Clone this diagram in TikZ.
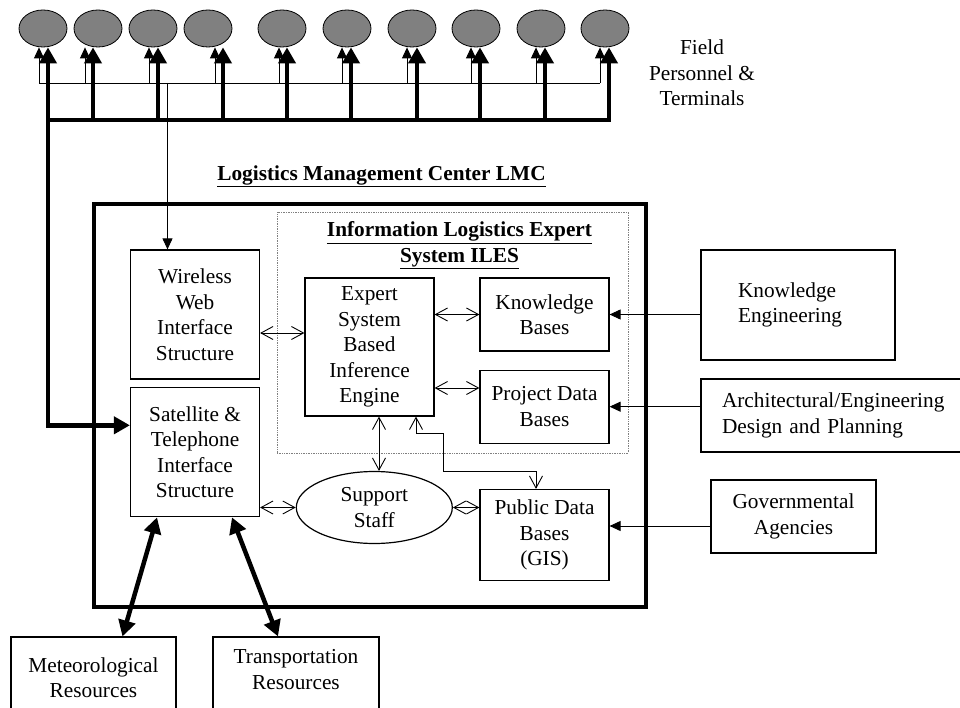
\documentclass[tikz,border=0pt]{standalone}
\usepackage{fontspec}
\setmainfont{Liberation Serif}
\usetikzlibrary{arrows.meta,shapes.geometric,positioning}
\definecolor{termgray}{RGB}{128,128,128}

\begin{document}
\begin{tikzpicture}[x=1pt,y=-1pt,
  font=\fontsize{21.3}{25.5}\selectfont,
  blk/.style={draw,line width=1.2pt,align=center,inner sep=0pt},
  term/.style={ellipse,draw,line width=0.8pt,fill=termgray,minimum width=48pt,minimum height=37pt,inner sep=0pt},
  link/.style={line width=0.9pt,{Straight Barb[length=12pt,width=13pt]}-{Straight Barb[length=12pt,width=13pt]}},
  feed/.style={line width=0.9pt,-{Triangle[length=11pt,width=10pt]}},
  fat/.style={line width=4.5pt,-{Triangle[length=16pt,width=17pt]}},
  fatboth/.style={line width=4.5pt,{Triangle[length=16pt,width=17pt]}-{Triangle[length=16pt,width=17pt]}}]
\useasboundingbox (0,0) rectangle (960,708);
\clip (0,0) rectangle (960,708);

% field personnel
\coordinate (nbusL) at (39,83);
\coordinate (nbusR) at (600,83);
\coordinate (tbusL) at (48,120);
\coordinate (tbusR) at (609,120);
\draw[line width=0.9pt] (nbusL) -- (nbusR);
\foreach \cx/\dt/\df [count=\i] in {43/-4/5,98/-13/-5,153/-4/5,208/7/15,282/-3/5,347/-5/4,412/-5/5,476/-5/4,541/-5/4,605/-5/4} {
  \node (t\i) [term] at (\cx,28.5) {};
  \draw[feed] ([xshift=\dt pt]t\i.south |- nbusL) -- ([xshift=\dt pt]t\i.south);
  \draw[fat] ([xshift=\df pt]t\i.south |- tbusL) -- ([xshift=\df pt]t\i.south);
}
\node (field) [align=center] at (702,73) {Field\\Personnel \&\\Terminals};

% center
\node (lmctitle) [font=\fontsize{21.3}{25.5}\selectfont\bfseries] at (381.5,176) {\underline{Logistics Management Center LMC}};
\node (lmc) [draw,line width=4pt,minimum width=552pt,minimum height=403pt,inner sep=0pt] at (370,405.5) {};
\node (iles) [draw,densely dotted,line width=0.7pt,gray,minimum width=351pt,minimum height=241pt,inner sep=0pt] at (452.5,332.5) {};
\node (ilestitle) [align=center,font=\fontsize{21.3}{25.5}\selectfont\bfseries] at (459.5,245.5) {\underline{Information Logistics Expert}\\\underline{System ILES}};

\node (wireless) [blk,minimum width=129pt,minimum height=129pt] at (195,314.5) {Wireless\\Web\\Interface\\Structure};
\node (sat) [blk,minimum width=129pt,minimum height=129pt] at (195,452.3) {Satellite \&\\Telephone\\Interface\\Structure};
\node (expert) [blk,minimum width=129pt,minimum height=138pt] at (369.5,347) {Expert\\System\\Based\\Inference\\Engine};
\node (kb) [blk,minimum width=129pt,minimum height=73pt] at (544.5,314.5) {Knowledge\\Bases};
\node (pdb) [blk,minimum width=129pt,minimum height=73pt] at (544.5,406.7) {Project Data\\Bases};
\node (public) [blk,minimum width=129pt,minimum height=91pt] at (544.5,535) {Public Data\\Bases\\(GIS)};
\node (support) [blk,ellipse,minimum width=156pt,minimum height=72pt] at (374.3,507.5) {Support\\Staff};

% outside sources
\node (ke) [blk,align=left,text width=120pt,inner xsep=37pt,minimum height=110pt] at (798,305) {Knowledge\\Engineering};
\node (arch) [blk,align=left,text width=232pt,inner xsep=21pt,minimum height=73pt] at (838,415.5) {Architectural/Engineering\\Design and Planning};
\node (gov) [blk,minimum width=165pt,minimum height=73pt] at (793.5,516.5) {Governmental\\Agencies};
\node (meteo) [blk,minimum width=165pt,minimum height=81pt] at (93.5,677.5) {Meteorological\\Resources};
\node (transp) [blk,minimum width=166pt,minimum height=81pt] at (296,677.5) {};
\node (transptxt) [align=center] at (296,669.5) {Transportation\\Resources};

% connectors
\coordinate (drop) at (167.5,83);
\draw[feed] (drop) -- (drop |- wireless.north);
\draw[line width=4.5pt,line cap=rect] (tbusL) -- (tbusR);
\draw[fat] (tbusL) |- ([yshift=27pt]sat.west);
\draw[fatboth] ([xshift=29pt]meteo.north) -- ([xshift=-38pt]sat.south);
\draw[fatboth] ([xshift=-18pt]transp.north) -- ([xshift=37pt]sat.south);

\draw[link] ([yshift=-18.5pt]wireless.east) -- ([yshift=-18.5pt]wireless.east -| expert.west);
\draw[link] (expert.east |- kb.west) -- (kb.west);
\draw[link] (expert.east |- pdb.west) ++(0,-18.7) -- ([yshift=18.7pt]pdb.west);
\draw[link] ([xshift=9.5pt]expert.south) -- ([xshift=9.5pt]expert.south |- support.north);
\draw[link] ([xshift=46.5pt]expert.south) -- ++(0,17) -- ++(27,0) -- ++(0,38) -| ([xshift=-8.5pt]public.north);
\draw[link] (support.west -| sat.east) -- (support.west);
\draw[link] (support.east) -- (support.east -| public.west);

\draw[feed] (ke.west |- kb.east) -- (kb.east);
\draw[feed] (arch.west |- pdb.east) -- (pdb.east);
\draw[feed] ([yshift=9pt]public.east -| gov.west) -- ([yshift=9pt]public.east);
\end{tikzpicture}
\end{document}
